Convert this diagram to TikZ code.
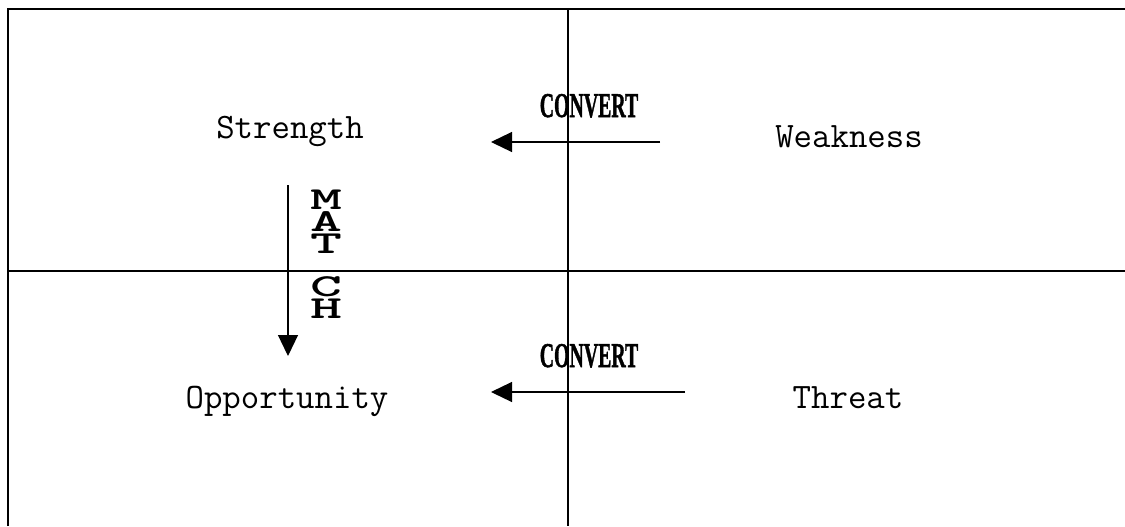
\documentclass[tikz,border=0pt]{standalone}
\usepackage{fontspec}
\usetikzlibrary{arrows.meta}
\newfontfamily\convf[BoldFeatures={FakeBold=1.5}]{Liberation Serif}
\tikzset{
  quad/.style={font=\ttfamily\fontsize{17.9}{20}\selectfont, inner sep=0pt, anchor=base},
  convlabel/.style={font=\convf\bfseries\fontsize{17.4}{20}\selectfont, inner sep=0pt, anchor=base, xscale=0.57},
  matchlabel/.style={font=\ttfamily\bfseries\fontsize{16}{11}\selectfont, inner sep=0pt, align=center, anchor=north, xscale=1.9},
  frame/.style={line width=1pt},
  divider/.style={line width=0.65pt},
  arr/.style={line width=0.6pt, -{Triangle[length=10.5pt,width=10pt]}},
}
\begin{document}
\begin{tikzpicture}[x=0.5pt,y=-0.5pt]
\useasboundingbox (0,0) rectangle (1125,526);
% frame
\coordinate (tl) at (8,9);
\coordinate (tr) at (1125,9);
\coordinate (bl) at (8,526);
\draw[frame] (bl) -- (tl) -- (tr);
% dividers
\coordinate (vt) at (568,9);
\coordinate (vb) at (568,526);
\coordinate (hl) at (8,271);
\coordinate (hr) at (1125,271);
\draw[divider] (vt) -- (vb);
\draw[divider] (hl) -- (hr);
% labels
\node[quad] (S) at (290,138) {Strength};
\node[quad] (W) at (849,147) {Weakness};
\node[quad] (O) at (287,408) {Opportunity};
\node[quad] (T) at (848,408) {Threat};
% convert arrows
\coordinate (a1s) at (660,142);
\coordinate (a1e) at (491,142);
\coordinate (a2s) at (685,392);
\coordinate (a2e) at (491,392);
\draw[arr] (a1s) -- (a1e);
\draw[arr] (a2s) -- (a2e);
\node[convlabel] (C1) at (589,117) {CONVERT};
\node[convlabel] (C2) at (589,367) {CONVERT};
% match arrow
\coordinate (m1) at (288,185);
\coordinate (m2) at (288,356);
\draw[arr] (m1) -- (m2);
\node[matchlabel] (match) at (326,190) {M\\A\\T\\[10.5pt]C\\H};
\end{tikzpicture}
\end{document}
